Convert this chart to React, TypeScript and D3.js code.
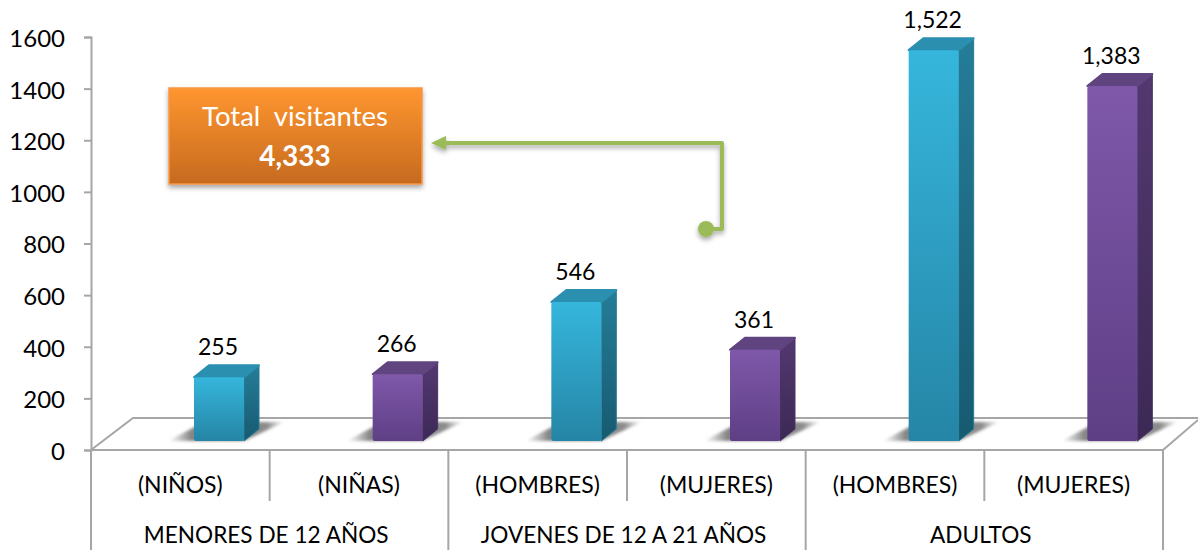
import React, { useEffect, useRef } from "react";
import * as d3 from "d3";

const categories = ["(NIÑOS)", "(NIÑAS)", "(HOMBRES)", "(MUJERES)", "(HOMBRES)", "(MUJERES)"];
const values = [255, 266, 546, 361, 1522, 1383];
const valueLabels = ["255", "266", "546", "361", "1,522", "1,383"];
const groups = ["MENORES DE 12 AÑOS", "JOVENES DE 12 A 21 AÑOS", "ADULTOS"];
const yTicks = [0, 200, 400, 600, 800, 1000, 1200, 1400, 1600];
const totalLabel = "Total  visitantes";
const totalValue = "4,333";

const FONT = "Lato, sans-serif";
const GRAY = "#a6a6a6";
const width = 1198;
const height = 550;

const App = () => {
  const ref = useRef<SVGSVGElement | null>(null);

  useEffect(() => {
    const svg = d3.select(ref.current);
    svg.selectAll("*").remove();

    const y = d3.scaleLinear().domain([0, 1600]).range([450, 37]);
    const x = d3.scaleBand<number>().domain(d3.range(6)).range([91, 1163]);
    const groupX = d3.scaleBand<number>().domain(d3.range(3)).range([91, 1163]);

    const barW = 50;
    const depthX = 15;
    const depthY = 12;
    const lift = 7; // tops sit a bit above the scale value
    const base = y(0) - 9; // bars stand behind the front edge of the floor
    const barShift = 103;

    const defs = svg.append("defs");
    const grad = (id: string, top: string, bottom: string) => {
      const g = defs.append("linearGradient").attr("id", id).attr("x1", 0).attr("y1", 0).attr("x2", 0).attr("y2", 1);
      g.append("stop").attr("offset", "0%").attr("stop-color", top);
      g.append("stop").attr("offset", "100%").attr("stop-color", bottom);
    };
    grad("frontA", "#36b6dc", "#2585a6");
    grad("sideA", "#257d98", "#175a70");
    grad("frontB", "#7f58aa", "#5e3f85");
    grad("sideB", "#533870", "#3c2955");
    grad("boxFill", "#ff9630", "#c66a1f");

    const sh = defs.append("linearGradient").attr("id", "floorShadow").attr("x1", 0).attr("y1", 0).attr("x2", 1).attr("y2", 0);
    sh.append("stop").attr("offset", "0%").attr("stop-color", "#8a8a8a").attr("stop-opacity", 0);
    sh.append("stop").attr("offset", "20%").attr("stop-color", "#777").attr("stop-opacity", 0.9);
    sh.append("stop").attr("offset", "85%").attr("stop-color", "#777").attr("stop-opacity", 0.85);
    sh.append("stop").attr("offset", "100%").attr("stop-color", "#8a8a8a").attr("stop-opacity", 0.1);

    const blur = defs.append("filter").attr("id", "soft").attr("x", "-20%").attr("y", "-40%").attr("width", "140%").attr("height", "180%");
    blur.append("feGaussianBlur").attr("stdDeviation", 1.5);
    const drop = defs.append("filter").attr("id", "drop").attr("x", "-10%").attr("y", "-10%").attr("width", "120%").attr("height", "130%");
    drop.append("feDropShadow").attr("dx", 0).attr("dy", 3).attr("stdDeviation", 2.5).attr("flood-color", "#000").attr("flood-opacity", 0.35);

    // floor
    const floorTop = y(0) - 32;
    svg
      .append("path")
      .attr("d", `M${x.range()[0]},${y(0)} L${x.range()[0] + 42},${floorTop} H${width} M${x.range()[1]},${y(0)} L${width},${floorTop + 2}`)
      .attr("fill", "none")
      .attr("stroke", GRAY)
      .attr("stroke-width", 2);

    // value axis
    const yAxis = svg
      .append("g")
      .attr("transform", `translate(${x.range()[0]},0)`)
      .call(d3.axisLeft(y).tickValues(yTicks).tickSize(7).tickPadding(19).tickFormat(d3.format("d")));
    yAxis.selectAll("path,line").attr("stroke", GRAY).attr("stroke-width", 2);
    yAxis.selectAll("text").attr("font-family", FONT).attr("font-size", 24).attr("fill", "#000").attr("dy", "0.39em");

    // category rules
    svg
      .append("line")
      .attr("x1", x.range()[0] - 1)
      .attr("x2", x.range()[1] + 1)
      .attr("y1", y(0))
      .attr("y2", y(0))
      .attr("stroke", GRAY)
      .attr("stroke-width", 2);
    x.domain().forEach((i) => {
      svg
        .append("line")
        .attr("x1", x(i)!)
        .attr("x2", x(i)!)
        .attr("y1", y(0))
        .attr("y2", i % 2 === 0 ? height : 501)
        .attr("stroke", GRAY)
        .attr("stroke-width", 2);
    });
    svg
      .append("line")
      .attr("x1", x.range()[1])
      .attr("x2", x.range()[1])
      .attr("y1", y(0))
      .attr("y2", height)
      .attr("stroke", GRAY)
      .attr("stroke-width", 2);

    // bars
    const bars = svg
      .selectAll("g.bar")
      .data(values)
      .join("g")
      .attr("class", "bar");

    const bx = (i: number) => x(i)! + barShift;

    bars
      .append("path")
      .attr("d", (_, i) => `M${bx(i) - 26},${base} H${bx(i) + barW} L${bx(i) + barW + 40},${base - 19} H${bx(i) + 10} Z`)
      .attr("fill", "url(#floorShadow)")
      .attr("filter", "url(#soft)");

    bars
      .append("path")
      .attr("d", (d, i) => {
        const top = y(d) - lift;
        return `M${bx(i) + barW},${top} L${bx(i) + barW + depthX},${top - depthY} V${base - depthY} L${bx(i) + barW},${base} Z`;
      })
      .attr("fill", (_, i) => (i % 2 === 0 ? "url(#sideA)" : "url(#sideB)"))
      .attr("stroke", (_, i) => (i % 2 === 0 ? "#257d98" : "#4a3266"))
      .attr("stroke-width", 1)
      .attr("stroke-linejoin", "round");

    bars
      .append("path")
      .attr("d", (d, i) => {
        const top = y(d) - lift;
        return `M${bx(i)},${top} L${bx(i) + depthX},${top - depthY} H${bx(i) + barW + depthX} L${bx(i) + barW},${top} Z`;
      })
      .attr("fill", (_, i) => (i % 2 === 0 ? "#2b8fb0" : "#60447f"))
      .attr("stroke", (_, i) => (i % 2 === 0 ? "#2b8fb0" : "#60447f"))
      .attr("stroke-width", 2)
      .attr("stroke-linejoin", "round");

    bars
      .append("rect")
      .attr("x", (_, i) => bx(i))
      .attr("y", (d) => y(d) - lift)
      .attr("width", barW)
      .attr("height", (d) => base - (y(d) - lift))
      .attr("rx", 2)
      .attr("fill", (_, i) => (i % 2 === 0 ? "url(#frontA)" : "url(#frontB)"));

    // data labels
    bars
      .append("text")
      .attr("x", (_, i) => bx(i) + barW / 2 - 1)
      .attr("y", (d) => y(d) - lift - depthY - 10)
      .attr("text-anchor", "middle")
      .attr("font-family", FONT)
      .attr("font-size", 23)
      .attr("fill", "#000")
      .text((_, i) => valueLabels[i]);

    // category labels
    svg
      .selectAll("text.cat")
      .data(categories)
      .join("text")
      .attr("class", "cat")
      .attr("x", (_, i) => x(i)! + x.bandwidth() / 2)
      .attr("y", 493)
      .attr("text-anchor", "middle")
      .attr("font-family", FONT)
      .attr("font-size", 23)
      .attr("fill", "#000")
      .text((d) => d);

    svg
      .selectAll("text.group")
      .data(groups)
      .join("text")
      .attr("class", "group")
      .attr("x", (_, i) => groupX(i)! + groupX.bandwidth() / 2 - 3.5)
      .attr("y", 543)
      .attr("text-anchor", "middle")
      .attr("font-family", FONT)
      .attr("font-size", 22.6)
      .attr("fill", "#000")
      .text((d) => d);

    // total box
    svg
      .append("rect")
      .attr("x", 169)
      .attr("y", 88)
      .attr("width", 253)
      .attr("height", 96)
      .attr("fill", "url(#boxFill)")
      .attr("stroke", "#f79646")
      .attr("stroke-width", 1.5)
      .attr("filter", "url(#drop)");
    svg
      .append("text")
      .attr("x", 295)
      .attr("y", 126)
      .attr("text-anchor", "middle")
      .attr("font-family", FONT)
      .attr("font-size", 27.5)
      .attr("font-weight", 400)
      .attr("fill", "#fff")
      .style("white-space", "pre")
      .text(totalLabel);
    svg
      .append("text")
      .attr("x", 295)
      .attr("y", 166)
      .attr("text-anchor", "middle")
      .attr("font-family", FONT)
      .attr("font-size", 28)
      .attr("font-weight", 700)
      .attr("fill", "#fff")
      .text(totalValue);

    // connector arrow
    const arrow = svg.append("g").attr("filter", "url(#drop)");
    arrow
      .append("path")
      .attr("d", "M706,229 H722 V143 H442")
      .attr("fill", "none")
      .attr("stroke", "#9bbb59")
      .attr("stroke-width", 4)
      .attr("stroke-linejoin", "round");
    arrow.append("path").attr("d", "M431,143 L446,136 V150 Z").attr("fill", "#9bbb59");
    arrow.append("circle").attr("cx", 706).attr("cy", 229).attr("r", 8).attr("fill", "#9bbb59");
  }, []);

  return (
    <svg
      ref={ref}
      width={width}
      height={height}
      style={{ position: "absolute", left: 0, top: 0, display: "block", background: "#fff" }}
    />
  );
};

export default App;
